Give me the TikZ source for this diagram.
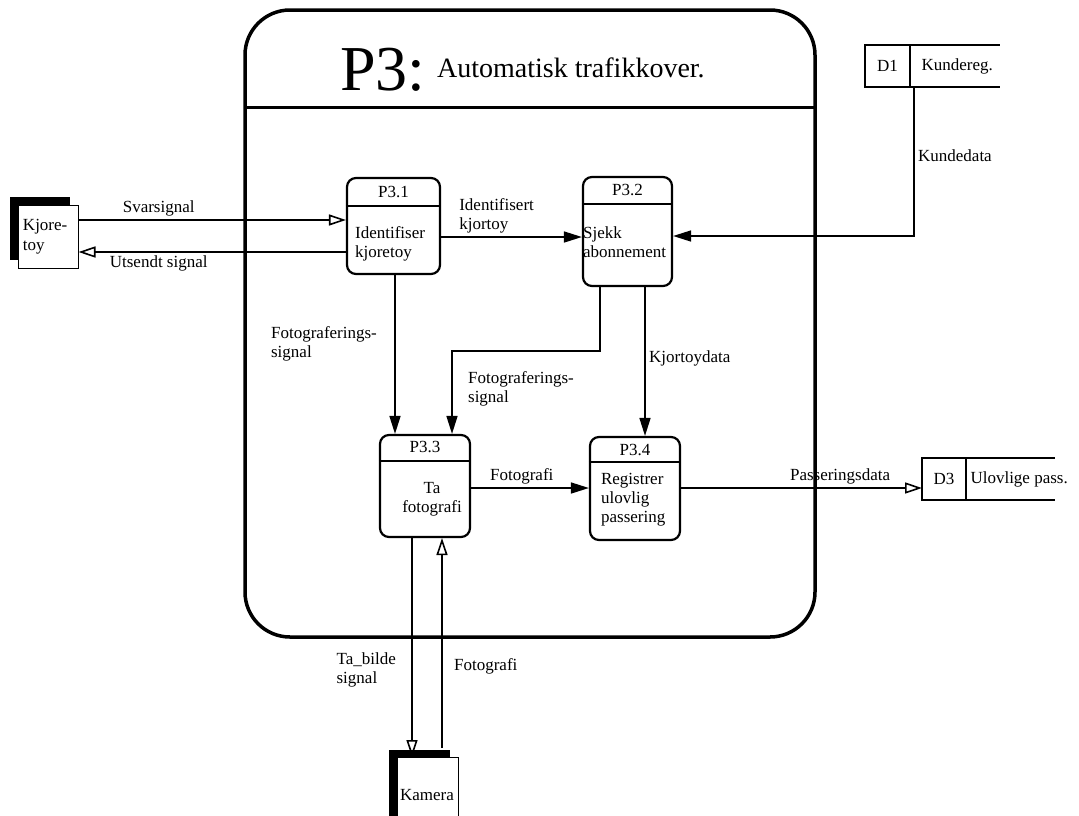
\documentclass[tikz,border=0pt]{standalone}
\usepackage{fontspec}
\setmainfont{Liberation Serif}
\usetikzlibrary{arrows.meta, positioning, shadows}
\tikzstyle{frame} = [rectangle, rounded corners=45, draw=black, line width=3.5pt, outer sep=0]
\tikzstyle{process} = [rectangle, rounded corners=9, draw=black, line width=2.2pt, fill=white]
\tikzstyle{headline} = [line width=2pt]
\tikzstyle{entity} = [rectangle, draw=black, line width=1pt, fill=white, align=left, general shadow={fill=black, shadow xshift=-8pt, shadow yshift=8pt}]
\tikzstyle{storeid} = [rectangle, draw=black, line width=2pt, outer sep=0, inner sep=0]
\tikzstyle{store} = [line width=2pt]
\tikzstyle{flow} = [line width=1.6pt, -{Triangle[length=18pt, width=11pt]}]
\tikzstyle{openflow} = [line width=1.6pt, -{Triangle[open, length=17pt, width=11pt]}]
\begin{document}
\begin{tikzpicture}[x=1pt, y=-1pt, font=\fontsize{17}{19}\selectfont]
\useasboundingbox (0,0) rectangle (1079,815);

% P3 frame
\node (p3) [frame, minimum width=570, minimum height=627] at (530,323.5) {};
\draw [line width=3pt] ([yshift=-97pt]p3.north west) -- ([yshift=-97pt]p3.north east);
\node (p3id) [anchor=base west, inner sep=0, font=\fontsize{64}{64}\selectfont] at (340,90) {P3:};
\node (p3name) [anchor=base west, inner sep=0, font=\fontsize{28}{28}\selectfont] at (437,77) {Automatisk trafikkover.};

% processes
\node (p31) [process, minimum width=93, minimum height=96] at (393.5,226) {};
\draw [headline] ([yshift=-29pt]p31.north west) -- ([yshift=-29pt]p31.north east);
\node (p31id) at ([yshift=-15pt]p31.north) {P3.1};
\node (p31txt) [anchor=west, align=left, inner sep=0] at ([xshift=9pt,yshift=-18pt]p31.west) {Identifiser\\kjoretoy};

\node (p32) [process, minimum width=89, minimum height=109] at (627.5,231.5) {};
\draw [headline] ([yshift=-28pt]p32.north west) -- ([yshift=-28pt]p32.north east);
\node (p32id) at ([yshift=-14pt]p32.north) {P3.2};
\node (p32txt) [anchor=west, align=left, inner sep=0] at ([xshift=1pt,yshift=-10.5pt]p32.west) {Sjekk\\abonnement};

\node (p33) [process, minimum width=90, minimum height=102] at (425,486) {};
\draw [headline] ([yshift=-27pt]p33.north west) -- ([yshift=-27pt]p33.north east);
\node (p33id) at ([yshift=-13pt]p33.north) {P3.3};
\node (p33txt) [align=center, inner sep=0] at ([xshift=7pt,yshift=-13pt]p33.center) {Ta\\fotografi};

\node (p34) [process, minimum width=90, minimum height=103] at (635,488.5) {};
\draw [headline] ([yshift=-26pt]p34.north west) -- ([yshift=-26pt]p34.north east);
\node (p34id) at ([yshift=-14pt]p34.north) {P3.4};
\node (p34txt) [anchor=west, align=left, inner sep=0] at ([xshift=12pt,yshift=-11.5pt]p34.west) {Registrer\\ulovlig\\passering};

% external entities
\node (veh) [entity, minimum height=63, text width=50, inner sep=5, font=\fontsize{17}{20}\selectfont] at (48,236.5) {Kjore-\\toy};
\node (kam) [entity, anchor=north, minimum height=76, text width=55, inner sep=3] at (427.5,757) {Kamera};

% data stores
\node (d1) [storeid, minimum width=45, minimum height=42, anchor=north west] at (865,45) {D1};
\draw [store] (d1.north east) -- ++(90,0);
\draw [store] (d1.south east) -- ++(90,0);
\node (d1n) [right=8pt of d1] {Kundereg.};

\node (d3) [storeid, minimum width=44, minimum height=42, anchor=north west] at (922,458) {D3};
\draw [store] (d3.north east) -- ++(89,0);
\draw [store] (d3.south east) -- ++(89,0);
\node (d3n) [right=1pt of d3] {Ulovlige pass.};

% data flows
\draw [openflow] ([yshift=16.5pt]veh.east) -- node [above, pos=0.3] (lsvar) {Svarsignal} ([yshift=6pt]p31.west);
\draw [openflow] ([yshift=-26pt]p31.west) -- node [below, pos=0.7] (lutsendt) {Utsendt signal} ([yshift=-15.5pt]veh.east);
\draw [flow] ([yshift=-11pt]p31.east) -- node [above right, pos=0.1, align=left] (lident) {Identifisert\\kjortoy} ([yshift=-5.5pt]p32.west);
\draw [flow] ([xshift=4pt]d1.south east) |- node [right, pos=0.23] (lkunde) {Kundedata} ([yshift=-4.5pt]p32.east);
\draw [flow] ([xshift=1.5pt]p31.south) -- node [left=14pt, pos=0.43, align=left] (lfoto1) {Fotograferings-\\signal} ([xshift=-30pt]p33.north);
\draw [flow] ([xshift=-27.5pt]p32.south) -- ++(0,64) -| node [pos=0.73, right=12pt, align=left] (lfoto2) {Fotograferings-\\signal} ([xshift=27pt]p33.north);
\draw [flow] ([xshift=17.5pt]p32.south) -- node [right, pos=0.48] (lkjort) {Kjortoydata} ([xshift=10pt]p34.north);
\draw [flow] ([yshift=-2pt]p33.east) -- node [above, pos=0.43] (lfoto3) {Fotografi} ([yshift=0.5pt]p34.west);
\draw [openflow] ([yshift=0.5pt]p34.east) -- node [above, pos=0.66] (lpass) {Passeringsdata} ([yshift=-9pt]d3.west);
\draw [openflow] ([xshift=-13pt]p33.south) -- node [left=12pt, pos=0.6, align=left] (ltabilde) {Ta\_bilde\\signal} ([xshift=-15.5pt]kam.north);
\draw [openflow] ([xshift=14.5pt,yshift=9pt]kam.north) -- node [right=8pt, pos=0.39] (lfoto4) {Fotografi} ([xshift=17pt]p33.south);

\end{tikzpicture}
\end{document}
